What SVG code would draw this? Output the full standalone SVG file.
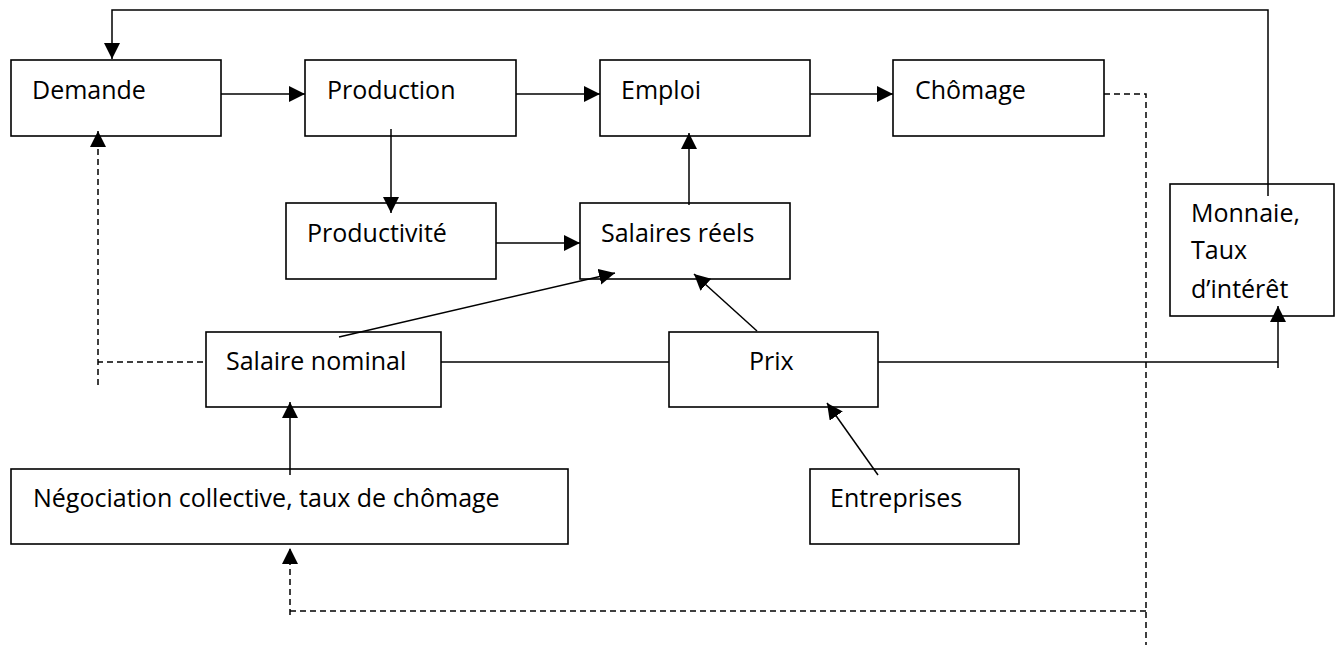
<svg xmlns="http://www.w3.org/2000/svg" width="1341" height="645" viewBox="0 0 1341 645">
<defs>
<marker id="ah" markerUnits="userSpaceOnUse" markerWidth="18" markerHeight="18" refX="16" refY="8" orient="auto">
<path d="M0,0 L16,8 L0,16 z" fill="#000"/>
</marker>
<style>
.box{fill:#fff;stroke:#000;stroke-width:1.6}
.lbl{font-family:"Open Sans","Noto Sans",sans-serif;font-size:25px;fill:#000}
.c{fill:none;stroke:#000;stroke-width:1.5}
.d{fill:none;stroke:#000;stroke-width:1.5;stroke-dasharray:6,4}
</style>
</defs>
<rect width="1341" height="645" fill="#fff"/>
<g id="demande"><rect class="box" x="11" y="60" width="210" height="76"/><text class="lbl" x="32" y="99">Demande</text></g>
<g id="production"><rect class="box" x="305" y="60" width="211" height="76"/><text class="lbl" x="327" y="99">Production</text></g>
<g id="emploi"><rect class="box" x="600" y="60" width="210" height="76"/><text class="lbl" x="621" y="99">Emploi</text></g>
<g id="chomage"><rect class="box" x="893" y="60" width="211" height="76"/><text class="lbl" x="915" y="99">Chômage</text></g>
<g id="productivite"><rect class="box" x="286" y="203" width="210" height="76"/><text class="lbl" x="307" y="242">Productivité</text></g>
<g id="salaires-reels"><rect class="box" x="580" y="203" width="210" height="76"/><text class="lbl" x="601" y="242">Salaires réels</text></g>
<g id="monnaie"><rect class="box" x="1170" y="184" width="164" height="132"/><text class="lbl" x="1191" y="222">Monnaie,</text><text class="lbl" x="1191" y="259">Taux</text><text class="lbl" x="1191" y="298">d’intérêt</text></g>
<g id="salaire-nominal"><rect class="box" x="206" y="332" width="235" height="75"/><text class="lbl" x="226" y="370">Salaire nominal</text></g>
<g id="prix"><rect class="box" x="669" y="332" width="209" height="75"/><text class="lbl" x="749" y="370">Prix</text></g>
<g id="negociation"><rect class="box" x="11" y="469" width="557" height="75"/><text class="lbl" x="33" y="507">Négociation collective, taux de chômage</text></g>
<g id="entreprises"><rect class="box" x="810" y="469" width="209" height="75"/><text class="lbl" x="830" y="507">Entreprises</text></g>
<g id="connectors">
<polyline class="c" points="1268,196 1268,10 112,10 112,59" marker-end="url(#ah)"/>
<line class="c" x1="221" y1="94" x2="305" y2="94" marker-end="url(#ah)"/>
<line class="c" x1="516" y1="94" x2="600" y2="94" marker-end="url(#ah)"/>
<line class="c" x1="810" y1="94" x2="893" y2="94" marker-end="url(#ah)"/>
<line class="c" x1="391" y1="129" x2="391" y2="213" marker-end="url(#ah)"/>
<line class="c" x1="496" y1="243" x2="580" y2="243" marker-end="url(#ah)"/>
<line class="c" x1="689" y1="205" x2="689" y2="133" marker-end="url(#ah)"/>
<line class="c" x1="339" y1="337" x2="615" y2="273" marker-end="url(#ah)"/>
<line class="c" x1="757" y1="331" x2="694" y2="274" marker-end="url(#ah)"/>
<line class="c" x1="441" y1="362" x2="669" y2="362"/>
<polyline class="c" points="878,362 1278,362"/>
<line class="c" x1="1278" y1="368" x2="1278" y2="306" marker-end="url(#ah)"/>
<line class="c" x1="290" y1="475" x2="290" y2="402" marker-end="url(#ah)"/>
<line class="c" x1="878" y1="475" x2="827" y2="403" marker-end="url(#ah)"/>
<polyline class="d" points="1104,94 1146,94 1146,645"/>
<polyline class="d" points="1146,611 290,611"/>
<line class="d" x1="290" y1="615" x2="290" y2="548" marker-end="url(#ah)"/>
<line class="d" x1="203" y1="362" x2="98" y2="362"/>
<line class="d" x1="98" y1="385" x2="98" y2="131" marker-end="url(#ah)"/>
</g>
</svg>
